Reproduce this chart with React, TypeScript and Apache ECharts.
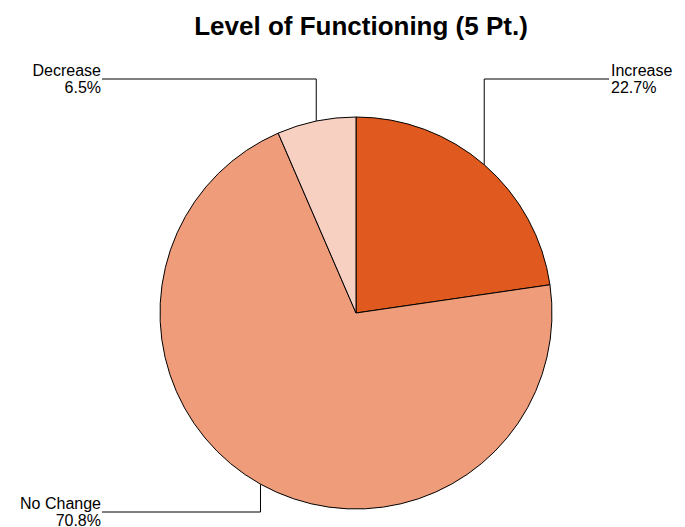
import React, { useEffect, useRef } from "react";
import * as echarts from "echarts";

const categories = ["Increase", "No Change", "Decrease"];
const values = [22.7, 70.8, 6.5];
const colors = ["#E0591F", "#EE9C7A", "#F7D0C2"];
const titleText = "Level of Functioning (5 Pt.)";

export default function App() {
  const ref = useRef<HTMLDivElement>(null);
  useEffect(() => {
    if (!ref.current) return;
    const chart = echarts.init(ref.current, undefined, { renderer: "svg" });
    const font = "'Liberation Sans', Arial, Helvetica, sans-serif";
    chart.setOption({
      animation: false,
      backgroundColor: "#ffffff",
      title: {
        text: titleText,
        left: 356,
        textAlign: "center",
        top: 8,
        textStyle: { fontFamily: font, fontSize: 26, fontWeight: "bold", color: "#000" },
      },
      series: [
        {
          type: "pie",
          center: [356, 313],
          radius: 196,
          startAngle: 90,
          clockwise: true,
          avoidLabelOverlap: false,
          itemStyle: { borderColor: "#000", borderWidth: 1 },
          emphasis: { disabled: true },
          label: {
            show: true,
            position: "outside",
            fontFamily: font,
            fontSize: 16,
            lineHeight: 17,
            color: "#000",
            formatter: (p: any) => `${p.name}\n${p.percent.toFixed(1)}%`,
          },
          labelLine: {
            show: true,
            length: 10,
            length2: 10,
            lineStyle: { color: "#000", width: 1 },
          },
          labelLayout: (params: any) => {
            const p0 = params.labelLinePoints ? params.labelLinePoints[0] : [0, 0];
            const i = params.dataIndex;
            if (i === 0) {
              return {
                x: 611,
                y: 79,
                align: "left",
                verticalAlign: "middle",
                labelLinePoints: [p0, [p0[0], 79], [609, 79]],
              };
            }
            if (i === 1) {
              return {
                x: 101,
                y: 512,
                align: "right",
                verticalAlign: "middle",
                labelLinePoints: [p0, [p0[0], 512], [102, 512]],
              };
            }
            return {
              x: 101,
              y: 79,
              align: "right",
              verticalAlign: "middle",
              labelLinePoints: [p0, [p0[0], 79], [102, 79]],
            };
          },
          data: categories.map((name, i) => ({
            name,
            value: values[i],
            itemStyle: { color: colors[i] },
          })),
        },
      ],
    });
    return () => chart.dispose();
  }, []);
  return <div ref={ref} style={{ width: 685, height: 527, position: "absolute", left: 0, top: 0 }} />;
}
